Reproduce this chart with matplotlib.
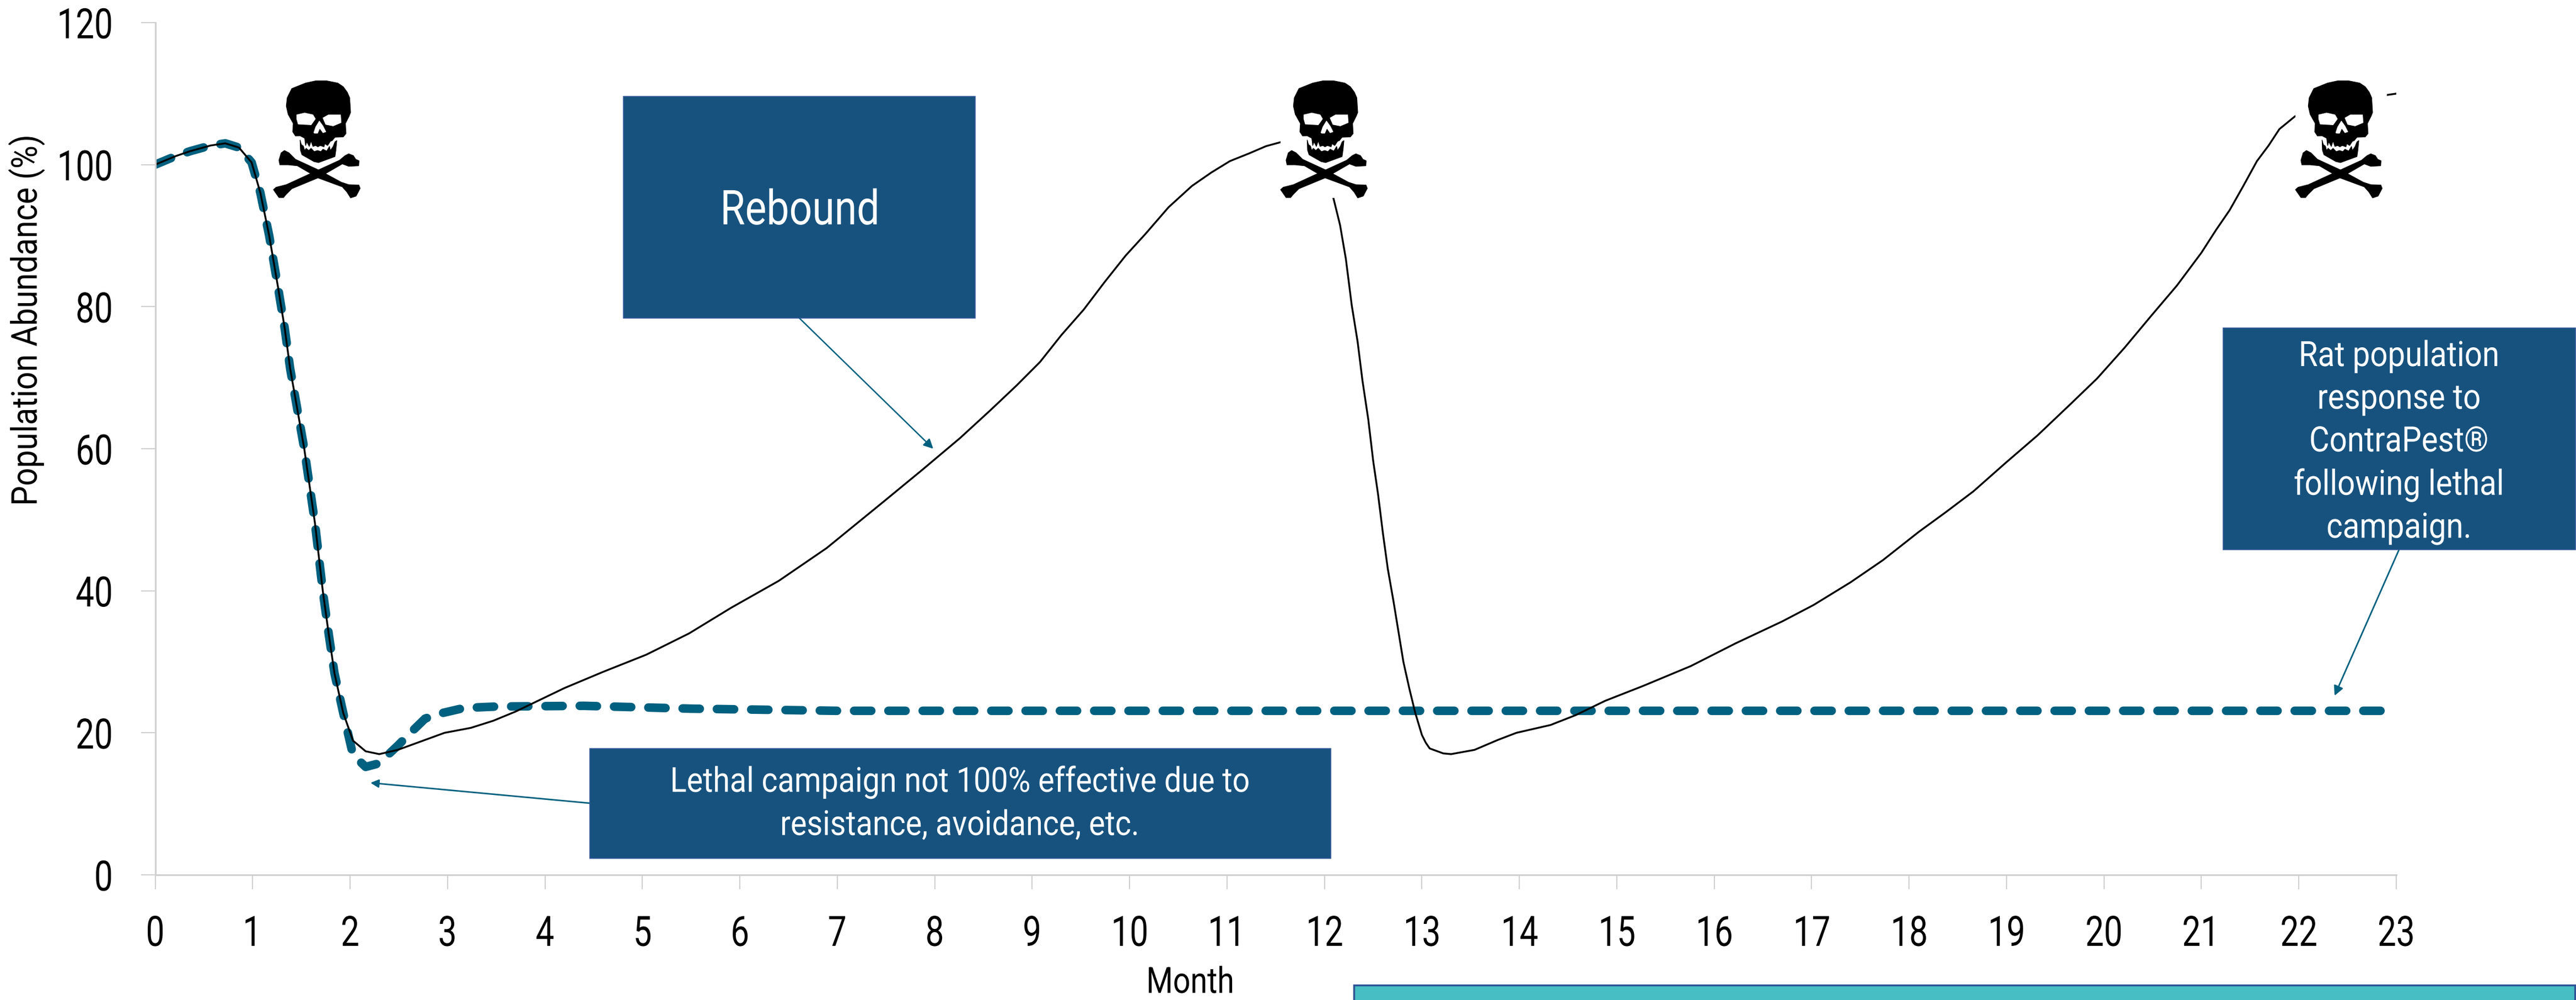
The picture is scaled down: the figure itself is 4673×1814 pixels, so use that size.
"""Rat population abundance under repeated lethal campaigns vs. ContraPest follow-up."""
import matplotlib
matplotlib.use("Agg")
import matplotlib.pyplot as plt
from matplotlib.patches import FancyArrowPatch, Polygon, Rectangle
from matplotlib.patheffects import AbstractPathEffect
from matplotlib.transforms import Affine2D

W, H = 4673, 1815
FONT = ["Roboto", "DejaVu Sans"]

months = list(range(24))
abundance_ticks = [0, 20, 40, 60, 80, 100, 120]

lethal_month = [
    0, 0.21, 0.36, 0.57, 0.72, 0.86, 0.99, 1.08, 1.17, 1.26, 1.33, 1.385, 1.53, 1.64,
    1.72, 1.78, 1.84, 1.93, 2.03, 2.16, 2.30, 2.49, 2.71, 2.97, 3.24, 3.47, 3.7, 4.2,
    4.6, 5.04, 5.48, 5.91, 6.40, 6.89, 7.48, 7.87, 8.26, 8.57, 8.84, 9.08, 9.30, 9.53,
    9.74, 9.96, 10.16, 10.40, 10.64, 10.84, 11.03, 11.23, 11.40, 11.56, 11.75, 11.9,
    12.0, 12.09, 12.16, 12.22, 12.28, 12.34, 12.39, 12.45, 12.50, 12.55, 12.60, 12.65,
    12.71, 12.76, 12.81, 12.87, 12.93, 13.0, 13.04, 13.08, 13.22, 13.30, 13.54, 13.78,
    13.97, 14.32, 14.58, 14.88, 15.27, 15.76, 16.22, 16.70, 17.02, 17.40, 17.73, 18.10,
    18.38, 18.66, 18.99, 19.32, 19.65, 19.93, 20.21, 20.49, 20.75, 21.0, 21.15, 21.29,
    21.43, 21.57, 21.69, 21.8, 21.96, 22.4, 23.0,
]
lethal_pct = [
    100, 101.2, 101.9, 102.7, 103, 102.4, 100.3, 96, 90, 82.8, 76.9, 71.3, 60, 49.5,
    40, 34, 28.4, 22.8, 18.9, 17.4, 17, 17.6, 18.7, 20, 20.7, 21.7, 23, 26.3,
    28.6, 31, 34, 37.6, 41.4, 46, 52.6, 57, 61.5, 65.4, 68.9, 72.2, 76, 79.6,
    83.4, 87.2, 90.2, 94, 97, 98.9, 100.5, 101.6, 102.6, 103.2, 103.8, 103,
    100.5, 95.4, 91.5, 86.7, 80.2, 75.1, 69.6, 64.1, 58.3, 53.6, 48.1, 43.1,
    38.4, 34.2, 30, 26.3, 22.9, 19.7, 18.6, 17.8, 17.1, 17, 17.6, 19,
    20, 21.1, 22.5, 24.5, 26.6, 29.4, 32.6, 35.7, 38, 41.2, 44.3, 48.3,
    51.1, 54, 58, 61.9, 66.2, 69.9, 74.2, 78.8, 83, 87.6, 90.8, 93.6,
    97, 100.5, 102.7, 105, 106.8, 108.8, 110,
]

contrapest_month = [
    0, 0.21, 0.36, 0.57, 0.72, 0.86, 0.99, 1.08, 1.17, 1.26, 1.33, 1.385, 1.53, 1.64,
    1.72, 1.78, 1.84, 1.93, 2.03, 2.16, 2.27, 2.35, 2.49, 2.62, 2.77, 2.92, 3.17, 3.5,
    4.4, 5.5, 7, 23,
]
contrapest_pct = [
    100, 101.2, 101.9, 102.7, 103, 102.4, 100.3, 96, 90, 82.8, 76.9, 71.3, 60, 49.5,
    40, 34, 28.4, 22.8, 16.9, 15.2, 15.6, 16.4, 18.2, 20, 22, 22.7, 23.5, 23.7,
    23.8, 23.4, 23.1, 23.1,
]

# campaign markers: left edge and width of each white-backed skull, in pixels
skull_left = [496, 2323, 4164]
skull_width = [157, 167, 166]

box_color = "#17527E"
arrow_color = "#00607F"
axis_gray = "#D0D0D0"

# outlines of the skull glyph, in its own drawing units
cranium = [
    (545, 5), (600, -7), (660, -7), (720, 5), (750, 25), (772, 55), (785, 85), (790, 165),
    (782, 185), (762, 225), (765, 280), (750, 298), (705, 300), (690, 318), (680, 322),
    (665, 345), (650, 335), (645, 352), (625, 345), (612, 352), (600, 345), (585, 350),
    (575, 320), (565, 350), (552, 325), (545, 345), (540, 305), (515, 292), (490, 293),
    (475, 270), (478, 225), (450, 175), (440, 130), (445, 85), (470, 35),
]
jaw = [
    (515, 315), (522, 340), (533, 348), (540, 372), (548, 360), (562, 372), (575, 360),
    (592, 378), (610, 372), (628, 378), (640, 365), (660, 375), (675, 350), (680, 372),
    (695, 350), (705, 325), (715, 318), (710, 370), (705, 405), (615, 438), (590, 432),
    (525, 395), (517, 370),
]
eye_left = [(497, 178), (540, 168), (585, 178), (598, 200), (575, 232), (540, 230), (505, 228), (497, 200)]
eye_right = [(640, 195), (670, 178), (735, 178), (738, 220), (695, 238), (655, 230)]
nose = [(590, 275), (600, 245), (620, 212), (640, 240), (655, 270), (640, 275), (622, 250), (610, 278), (595, 278)]
bone_a = [
    (430, 372), (455, 385), (490, 420), (620, 480), (740, 545), (780, 558), (835, 560),
    (842, 578), (820, 620), (790, 630), (770, 598), (745, 570), (615, 522), (500, 455),
    (450, 450), (405, 450), (400, 425), (412, 385),
]
bone_b = [
    (760, 400), (780, 390), (805, 400), (818, 420), (836, 428), (834, 455), (780, 458),
    (745, 445), (615, 520), (470, 580), (440, 610), (425, 628), (400, 628), (370, 585),
    (385, 572), (440, 558), (610, 480), (730, 425),
]


class Squeeze(AbstractPathEffect):
    """Condense glyphs along the reading direction (no condensed face is installed)."""

    def __init__(self, factor, anchor="center", axis="x"):
        super().__init__()
        self.factor, self.anchor, self.axis = factor, anchor, axis

    def draw_path(self, renderer, gc, tpath, affine, rgbFace=None):
        box = tpath.transformed(affine).get_extents()
        if self.axis == "x":
            p = box.x1 if self.anchor == "right" else (box.x0 + box.x1) / 2
            squeeze = Affine2D().translate(-p, 0).scale(self.factor, 1).translate(p, 0)
        else:
            p = (box.y0 + box.y1) / 2
            squeeze = Affine2D().translate(0, -p).scale(1, self.factor).translate(0, p)
        renderer.draw_path(gc, tpath, affine + squeeze, rgbFace)


fig = plt.figure(figsize=(W / 100, H / 100), dpi=100, facecolor="white")
# pixel coordinates with the origin at the top left
px = Affine2D().scale(1, -1).translate(0, H)


def add_box(x0, y0, x1, y1, color=box_color, edge="#2F5597", lw=1.2, z=5):
    fig.add_artist(Rectangle((x0, y0), x1 - x0, y1 - y0, transform=px, facecolor=color,
                             edgecolor=edge, linewidth=lw, zorder=z))


def add_label(x, y, s, size=45, color="white", squeeze=0.89, axis="x", z=6, **kw):
    t = fig.text(x / W, 1 - y / H, s, family=FONT, fontsize=size, color=color, ha="center",
                 va="center", zorder=z, **kw)
    t.set_path_effects([Squeeze(squeeze, axis=axis)])


def add_arrow(start, tip, lw=1.8, scale=26):
    fig.add_artist(FancyArrowPatch(start, tip, transform=px, arrowstyle="-|>", color=arrow_color,
                                   linewidth=lw, mutation_scale=scale, shrinkA=0, shrinkB=0,
                                   zorder=4))


def add_skull(left, width):
    # white backing hides the curve behind the glyph
    fig.add_artist(Rectangle((left, 147), width, 213, transform=px, facecolor="white",
                             edgecolor="none", zorder=2))
    to_px = Affine2D().translate(-370, 0).scale(1 / 3).translate(left, 150) + px
    for shape, fill in [(cranium, "black"), (jaw, "black"), (bone_a, "black"), (bone_b, "black"),
                        (eye_left, "white"), (eye_right, "white"), (nose, "white")]:
        fig.add_artist(Polygon(shape, closed=True, transform=to_px, facecolor=fill, edgecolor=fill,
                               linewidth=0.8, joinstyle="round", zorder=3))


ax = fig.add_axes([281.5 / W, 1 - 1588 / H, (4347 - 281.5) / W, (1588 - 42) / H])
ax.plot(contrapest_month, contrapest_pct, color=arrow_color, lw=11.2,
        linestyle=(0, (2.0, 2.0)), dash_capstyle="round", dash_joinstyle="round")
ax.plot(lethal_month, lethal_pct, color="black", lw=2.4, solid_joinstyle="round")

ax.set_xlim(0, 23)
ax.set_ylim(0, 120)
ax.set_xticks(months)
ax.set_yticks(abundance_ticks)
for name in ("top", "right"):
    ax.spines[name].set_visible(False)
for name in ("left", "bottom"):
    ax.spines[name].set_color(axis_gray)
    ax.spines[name].set_linewidth(2.2)
ax.tick_params(axis="both", length=18.7, width=1.5, color=axis_gray, pad=36, labelsize=54.7)
ax.tick_params(axis="x", pad=33)
for lbl in ax.get_xticklabels():
    lbl.set_family(FONT)
    lbl.set_path_effects([Squeeze(0.79)])
for lbl in ax.get_yticklabels():
    lbl.set_family(FONT)
    lbl.set_path_effects([Squeeze(0.79, anchor="right")])

add_label(48, 582, "Population Abundance (%)", size=46.6, color="black", squeeze=0.886, axis="y",
          rotation=90)
add_label(2159, 1784, "Month", size=47, color="black", squeeze=0.85)

for left, width in zip(skull_left, skull_width):
    add_skull(left, width)

add_box(1131, 176, 1769, 578)
add_label(1451, 384, "Rebound", size=62.8, squeeze=0.84)
add_arrow((1450, 578), (1693, 815))

add_box(1070, 1359, 2414, 1558)
add_label(1741, 1459, "Lethal campaign not 100% effective due to\nresistance, avoidance, etc.",
          linespacing=1.38)
add_arrow((1070, 1458), (672, 1421), lw=2.0, scale=22)

add_box(4033, 596, 4672, 998)
add_label(4352, 804, "Rat population\nresponse to\nContraPest\u00ae\nfollowing lethal\ncampaign.",
          size=45.6, linespacing=1.37)
add_arrow((4352, 998), (4235, 1263), lw=2.0)

# teal panel running off the bottom edge
add_box(2456, 1788, 4671, H + 10, color="#46BEC3", edge="#2F5597", lw=2.5)

fig.savefig("out.png", dpi=100)
